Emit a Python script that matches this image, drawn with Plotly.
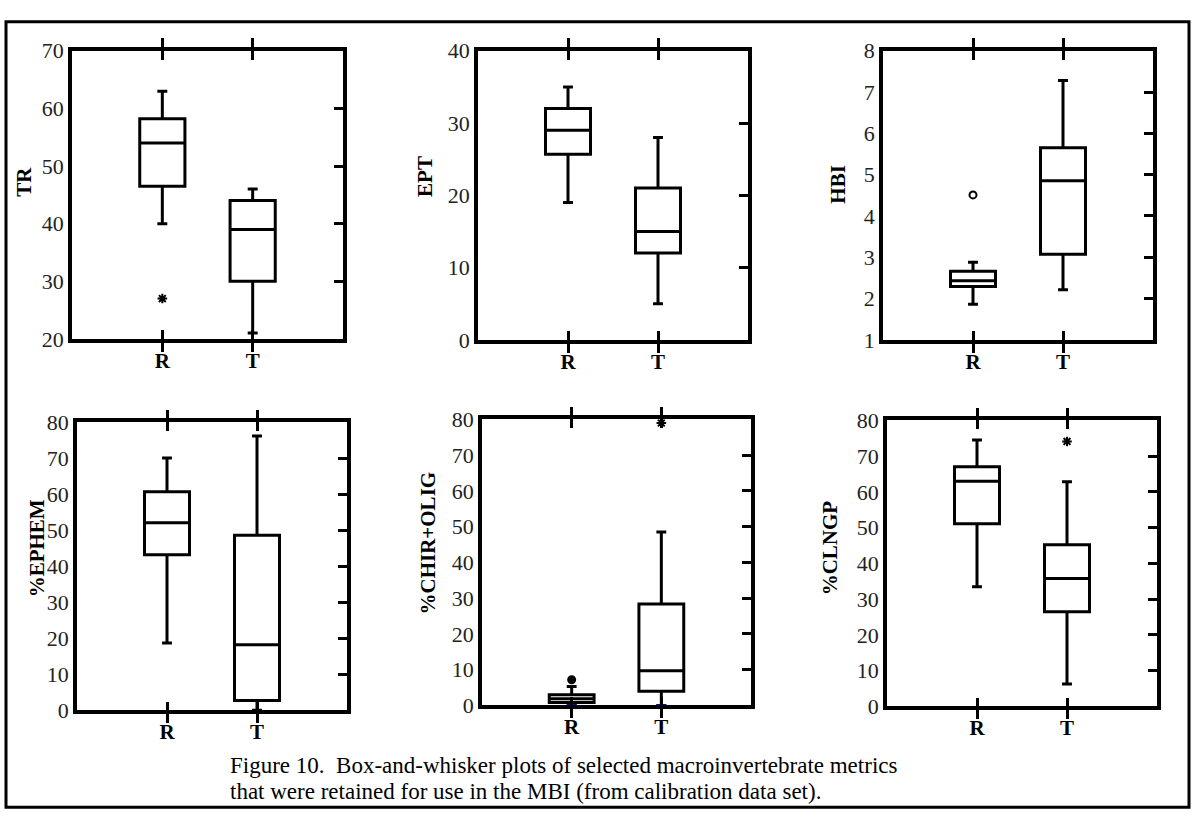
import plotly.graph_objects as go

W, H = 1194, 831

# ---- data (whisker low, Q1, median, Q3, whisker high) ----
groups = ["R", "T"]
group_pos = [1, 2]

metrics = ["TR", "EPT", "HBI", "%EPHEM", "%CHIR+OLIG", "%CLNGP"]

TR_R = [40, 46.5, 54, 58.2, 63]
TR_T = [21, 30, 39, 44, 46]
EPT_R = [19, 25.7, 29, 32, 35]
EPT_T = [5, 12, 15, 21, 28]
HBI_R = [1.86, 2.29, 2.43, 2.66, 2.88]
HBI_T = [2.21, 3.07, 4.85, 5.65, 7.28]
EPHEM_R = [18.7, 43.2, 52.1, 60.7, 70.1]
EPHEM_T = [0, 2.7, 18.2, 48.6, 76.2]
CHIR_R = [0, 0.8, 1.9, 3.0, 5.3]
CHIR_T = [0, 4.0, 9.7, 28.4, 48.5]
CLNGP_R = [33.5, 51.1, 63, 67, 74.5]
CLNGP_T = [6.3, 26.5, 35.8, 45.2, 62.8]

# outliers: (metric index, group position, value, symbol)
outlier_metric = [0, 2, 4, 4, 5]
outlier_group = [1, 1, 1, 2, 2]
outlier_value = [27, 4.51, 7.2, 79, 74.1]
outlier_symbol = ["asterisk-open", "circle-open", "circle", "asterisk-open", "asterisk-open"]

y_ranges = [[20, 70], [0, 40], [1, 8], [0, 80], [0, 80], [0, 80]]
y_dticks = [10, 10, 1, 10, 10, 10]

caption_lines = [
    "Figure 10.  Box-and-whisker plots of selected macroinvertebrate metrics",
    "that were retained for use in the MBI (from calibration data set).",
]

stats = [(TR_R, TR_T), (EPT_R, EPT_T), (HBI_R, HBI_T),
         (EPHEM_R, EPHEM_T), (CHIR_R, CHIR_T), (CLNGP_R, CLNGP_T)]

# ---- layout geometry (pixels) ----
panel_px = [
    (72, 343, 40, 337),
    (478, 748, 40, 338),
    (883, 1153, 40, 338),
    (77, 347, 423, 720),
    (482, 751, 420, 715),
    (887, 1157, 421, 716),
]
ytitle_px = [(24, 175), (425, 170), (838, 178), (37, 553), (428, 548), (830, 553)]

SERIF = "Liberation Serif"


def px_x(p):
    return p / W


def px_y(p):
    return 1 - p / H


fig = go.Figure()
layout = dict(
    width=W, height=H,
    margin=dict(l=0, r=0, t=0, b=0),
    paper_bgcolor="white", plot_bgcolor="white",
    showlegend=False,
    font=dict(family=SERIF, color="black"),
)

annotations = []

for i, (m, (sr, st)) in enumerate(zip(metrics, stats)):
    n = i + 1
    xa = "x" if n == 1 else f"x{n}"
    ya = "y" if n == 1 else f"y{n}"
    ya2 = f"y{n + 6}"
    x0, x1, y0, y1 = panel_px[i]

    lows = [sr[0], st[0]]
    q1s = [sr[1], st[1]]
    meds = [sr[2], st[2]]
    q3s = [sr[3], st[3]]
    highs = [sr[4], st[4]]

    fig.add_trace(go.Box(
        x=group_pos, q1=q1s, median=meds, q3=q3s,
        lowerfence=lows, upperfence=highs,
        width=0.5, whiskerwidth=0.22,
        fillcolor="white", line=dict(color="black", width=3),
        boxpoints=False, xaxis=xa, yaxis=ya, hoverinfo="skip",
    ))

    # blue zero-whisker marks (as in the %CHIR+OLIG panel)
    if i == 4:
        fig.add_trace(go.Scatter(
            x=group_pos, y=lows, mode="markers",
            marker=dict(symbol="line-ew", size=7, line=dict(color="blue", width=3)),
            xaxis=xa, yaxis=ya, hoverinfo="skip",
        ))

    # outliers
    for om, og, ov, osym in zip(outlier_metric, outlier_group, outlier_value, outlier_symbol):
        if om == i:
            fig.add_trace(go.Scatter(
                x=[og], y=[ov], mode="markers",
                marker=dict(symbol=osym, size=8 if "asterisk" in osym else 7,
                            color="black", line=dict(color="black", width=2)),
                xaxis=xa, yaxis=ya, hoverinfo="skip",
            ))

    # invisible trace to host right-side tick axis
    fig.add_trace(go.Scatter(x=[None], y=[None], mode="markers", xaxis=xa,
                             yaxis=ya2, showlegend=False, hoverinfo="skip"))

    xkey = "xaxis" if n == 1 else f"xaxis{n}"
    ykey = "yaxis" if n == 1 else f"yaxis{n}"
    layout[xkey] = dict(
        domain=[px_x(x0), px_x(x1)], anchor=ya,
        range=[0, 3], tickvals=group_pos, ticktext=groups,
        ticks="inside", ticklen=9, tickwidth=3, tickcolor="black",
        mirror="allticks", showline=True, linewidth=3.5, linecolor="black",
        showgrid=False, zeroline=False, fixedrange=True,
        tickfont=dict(family=SERIF, size=21, color="black", weight="bold"),
    )
    layout[ykey] = dict(
        domain=[px_y(y1), px_y(y0)], anchor=xa,
        range=y_ranges[i], dtick=y_dticks[i], tick0=0,
        ticks="", showline=True, mirror=True, linewidth=3.5, linecolor="black",
        showgrid=False, zeroline=False, fixedrange=True,
        tickfont=dict(family=SERIF, size=22, color="#222"),
    )
    layout[f"yaxis{n + 6}"] = dict(
        overlaying=ya, anchor=xa, side="right",
        range=y_ranges[i], dtick=y_dticks[i], tick0=0,
        ticks="inside", ticklen=9, tickwidth=3, tickcolor="black",
        showticklabels=False, showline=False, showgrid=False, zeroline=False,
        fixedrange=True,
    )

    tx, ty = ytitle_px[i]
    annotations.append(dict(
        x=px_x(tx), y=px_y(ty), xref="paper", yref="paper",
        text=m, textangle=-90, showarrow=False,
        xanchor="center", yanchor="middle",
        font=dict(family=SERIF, size=21, color="black", weight="bold"),
    ))

for k, line in enumerate(caption_lines):
    annotations.append(dict(
        x=px_x(228), y=px_y(777 + 27 * k), xref="paper", yref="paper",
        text=line, showarrow=False, xanchor="left", yanchor="middle",
        font=dict(family=SERIF, size=23, color="black"),
    ))

layout["annotations"] = annotations
layout["shapes"] = [dict(
    type="rect", xref="paper", yref="paper",
    x0=px_x(6), x1=px_x(1189), y0=px_y(820), y1=px_y(10),
    line=dict(color="black", width=3), fillcolor="rgba(0,0,0,0)", layer="above",
)]

fig.update_layout(**layout)
fig.write_html("out.html", config={"displayModeBar": False},
               post_script="document.body.style.margin='0';")
